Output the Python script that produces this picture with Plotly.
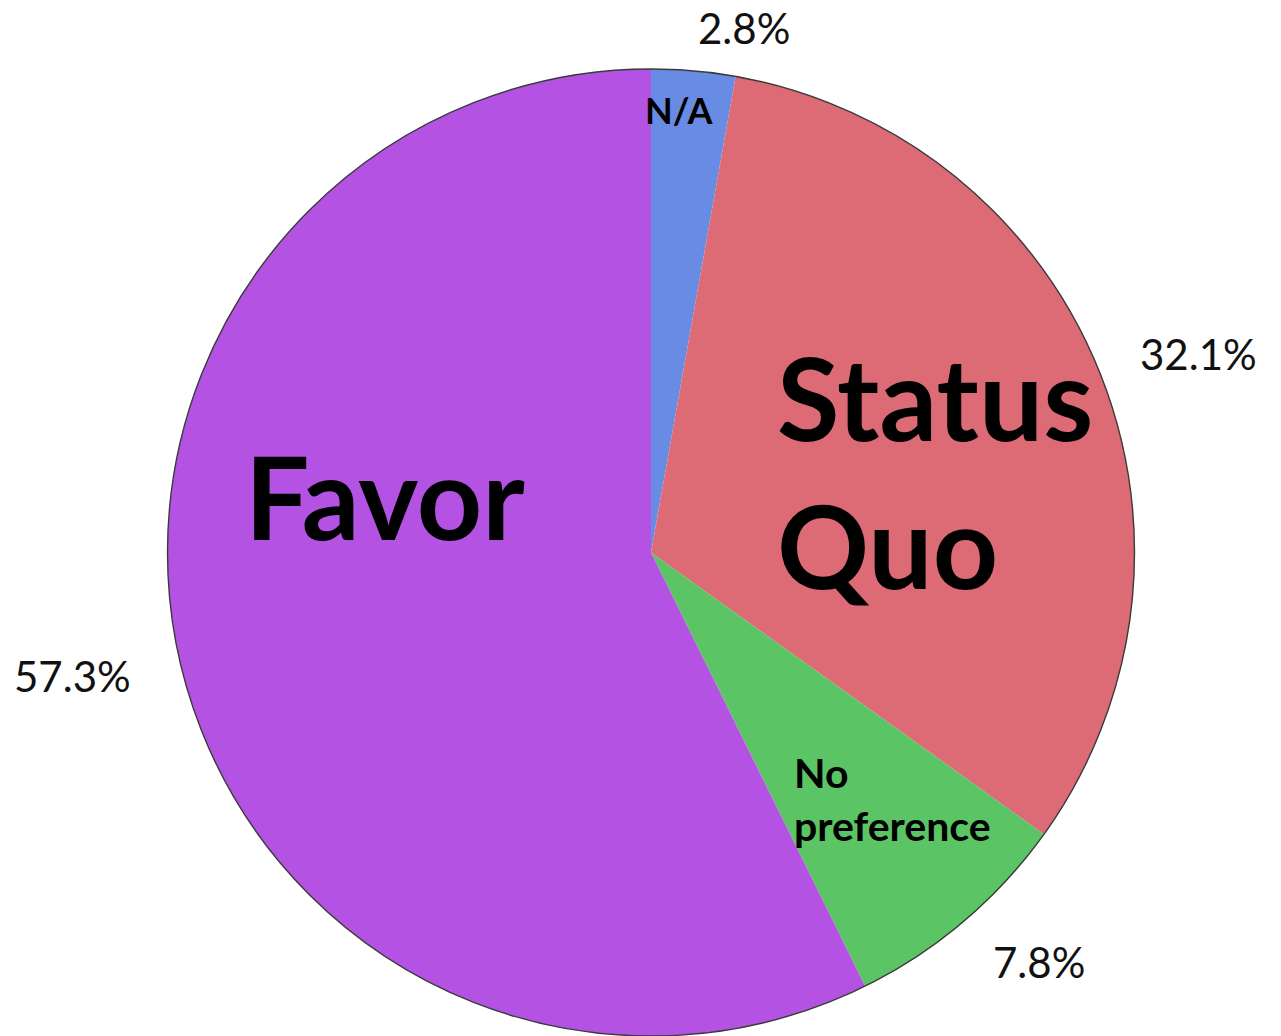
import plotly.graph_objects as go

# ---- data ----
categories = ["N/A", "Status Quo", "No preference", "Favor"]
values = [2.8, 32.1, 7.8, 57.3]
slice_colors = ["#688CE4", "#DC6B76", "#5BC565", "#B352E3"]

# display texts for the in-slice category names
category_display = ["N/A", "Status<br>Quo", "No<br>preference", "Favor"]

W, H = 1281, 1036
CX, CY, R = 651, 552.5, 483.5

dom_x = [(CX - R) / W, (CX + R) / W]
dom_y = [1 - (CY + R) / H, 1 - (CY - R) / H]

fig = go.Figure()
fig.add_trace(go.Pie(
    labels=categories, values=values, sort=False, direction="clockwise",
    rotation=0, marker=dict(colors=slice_colors, line=dict(width=0)),
    textinfo="none", hoverinfo="label+percent", domain=dict(x=dom_x, y=dom_y),
    showlegend=False,
))
# outline ring (single transparent slice) drawn on top
fig.add_trace(go.Pie(
    labels=["outline"], values=[1], sort=False,
    marker=dict(colors=["rgba(0,0,0,0)"], line=dict(width=1.4, color="#3a3a3a")),
    textinfo="none", hoverinfo="skip", domain=dict(x=dom_x, y=dom_y),
    showlegend=False,
))

def px(x, y):
    return x / W, 1 - y / H

# category name placement (pixel), anchors, font sizes
name_pos = [(679, 110, "center", 36), (775, 470, "left", 114),
            (792, 799, "left", 41), (385, 496, "center", 114)]
# percentage label placement (pixel)
pct_pos = [(744, 28), (1198, 354), (1039, 962), (72, 676)]

annotations = []
for txt, (x, y, anch, fs) in zip(category_display, name_pos):
    ax, ay = px(x, y)
    annotations.append(dict(
        x=ax, y=ay, xref="paper", yref="paper", text=f"<b>{txt}</b>",
        showarrow=False, xanchor=anch, yanchor="middle", align="left",
        font=dict(family="Lato", size=fs, color="#000000"),
    ))
for v, (x, y) in zip(values, pct_pos):
    ax, ay = px(x, y)
    annotations.append(dict(
        x=ax, y=ay, xref="paper", yref="paper", text=f"{v:.1f}%",
        showarrow=False, xanchor="center", yanchor="middle", height=36,
        font=dict(family="Lato", size=42, color="#111111"),
    ))

fig.update_layout(
    width=W, height=H, margin=dict(l=0, r=0, t=0, b=0),
    paper_bgcolor="white", plot_bgcolor="white",
    annotations=annotations,
)

fig.write_html(
    "out.html",
    config={"displayModeBar": False},
    post_script="document.body.style.margin='0';document.body.style.padding='0';",
)
